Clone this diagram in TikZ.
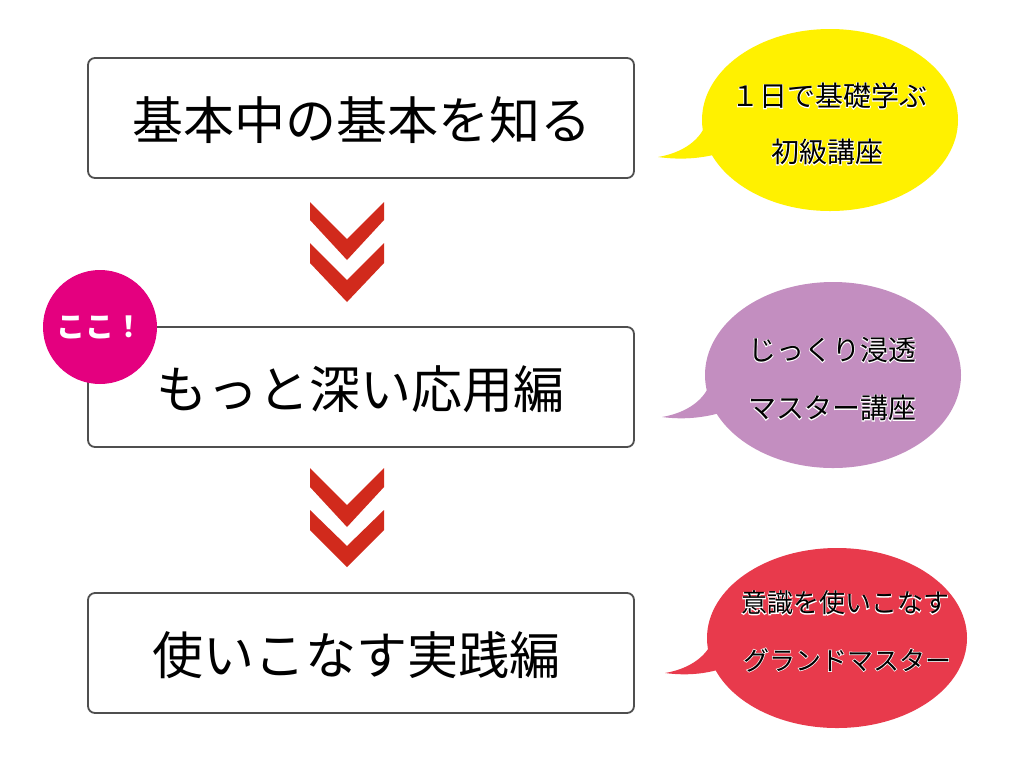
\documentclass[tikz,border=0pt]{standalone}
\usepackage{fontspec}
\setmainfont{Noto Sans CJK JP}
\newfontfamily\jphalo[FakeBold=5]{Noto Sans CJK JP}
\usetikzlibrary{shapes.geometric}
\definecolor{bordergray}{HTML}{4F4F4F}
\definecolor{chevred}{HTML}{D12A1C}
\definecolor{bubyellow}{HTML}{FFF100}
\definecolor{bubpurple}{HTML}{C38EC0}
\definecolor{bubred}{HTML}{E83A4C}
\definecolor{kokomag}{HTML}{E4007F}
\newcommand\haloed[1]{\leavevmode\rlap{\jphalo\color{white}#1}#1}
\begin{document}
\begin{tikzpicture}[x=1pt,y=-1pt,
  stepbox/.style={draw=bordergray,line width=1.8pt,rounded corners=7pt,fill=white,
    minimum width=546pt,minimum height=120pt,inner sep=0pt},
  steptext/.style={inner sep=0pt,font=\fontsize{51}{51}\selectfont},
  chev/.style={fill=chevred},
  bubble/.style={ellipse,minimum width=256pt,minimum height=182pt,inner sep=0pt},
  bubtext/.style={font=\fontsize{27}{27}\selectfont,inner sep=0pt},
  kokostyle/.style={circle,fill=kokomag,minimum size=114pt,inner sep=0pt,
    text=white,font=\fontsize{29}{29}\selectfont\bfseries}
]
\useasboundingbox (0,0) rectangle (1024,764);
\fill[white] (0,0) rectangle (1024,764);

% main boxes
\node[stepbox] (b1) at (361,118) {};
\node[steptext] (t1) at (362,120) {基本中の基本を知る};
\node[stepbox] (b2) at (361,387) {};
\node[steptext] (t2) at (360,389) {もっと深い応用編};
\node[stepbox] (b3) at (361,653) {};
\node[steptext] (t3) at (356,655) {使いこなす実践編};

% koko circle
\node[kokostyle] (koko) at (100,327) {ここ！};

% chevrons between boxes
\fill[chev] (310,202) -- (347,239) -- (384,202) -- (384,220) -- (347,260) -- (310,220) -- cycle;
\fill[chev] (310,243) -- (347,280) -- (384,243) -- (384,263) -- (347,302) -- (310,263) -- cycle;
\fill[chev] (310,468) -- (347,505) -- (384,468) -- (384,487) -- (347,527) -- (310,487) -- cycle;
\fill[chev] (310,510) -- (347,546) -- (384,510) -- (384,530) -- (347,567) -- (310,530) -- cycle;

% yellow bubble
\node[bubble,fill=bubyellow] (y1) at (830,120) {};
\coordinate (ytip) at (658,157);
\fill[bubyellow] (ytip) .. controls (682,153) and (702,140) .. (707,120)
  -- (740,130) -- (724,152) .. controls (702,159) and (680,160) .. (ytip);
\node[bubtext,font=\fontsize{28}{28}\selectfont] (yt1) at (829,96) {\haloed{１日で基礎学ぶ}};
\node[bubtext,font=\fontsize{28}{28}\selectfont] (yt2) at (827,152) {\haloed{初級講座}};

% purple bubble
\node[bubble,fill=bubpurple,minimum height=186pt] (p1) at (833,375) {};
\coordinate (ptip) at (662,417);
\fill[bubpurple] (ptip) .. controls (686,413) and (706,400) .. (711,380)
  -- (745,392) -- (732,409) .. controls (708,418) and (684,420) .. (ptip);
\node[bubtext,font=\fontsize{28}{28}\selectfont] (pt1) at (832,350) {\haloed{じっくり浸透}};
\node[bubtext,font=\fontsize{28}{28}\selectfont] (pt2) at (832,408) {\haloed{マスター講座}};

% red bubble
\node[bubble,fill=bubred,minimum width=260pt,minimum height=180pt] (r1) at (837,638) {};
\coordinate (rtip) at (665,673);
\fill[bubred] (rtip) .. controls (689,669) and (709,656) .. (714,636)
  -- (748,648) -- (732,665) .. controls (710,674) and (688,676) .. (rtip);
\node[bubtext,font=\fontsize{26}{26}\selectfont] (rt1) at (845,603) {\haloed{意識を使いこなす}};
\node[bubtext,font=\fontsize{26}{26}\selectfont] (rt2) at (847,660) {\haloed{グランドマスター}};
\end{tikzpicture}
\end{document}
